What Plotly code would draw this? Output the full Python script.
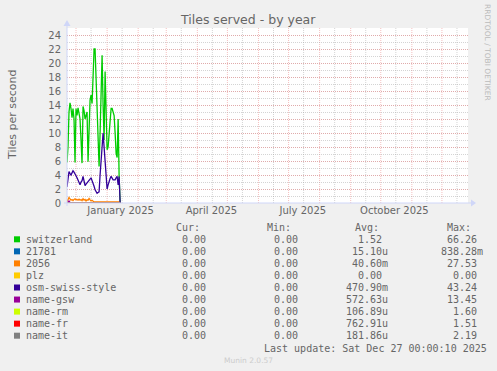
import datetime as dt
import plotly.graph_objects as go

# ---------------- data ----------------
start_date = dt.datetime(2024, 11, 22)
end_date = dt.datetime(2025, 12, 27)

switzerland = [5.8, 8.0, 13.0, 14.3, 13.5, 12.2, 13.5, 12.0, 5.8, 13.5, 12.5, 13.6, 12.8, 12.0,
               9.0, 5.7, 13.8, 13.2, 12.0, 12.6, 13.0, 5.9, 10.0, 14.7, 15.4, 14.2, 18.0, 22.0,
               22.0, 17.0, 12.0, 8.0, 5.2, 10.0, 17.0, 21.1, 14.0, 9.0, 18.8, 12.0, 7.6, 8.0,
               10.0, 12.0, 13.5, 13.5, 12.8, 12.5, 10.0, 7.1, 6.5, 12.0, 3.8, 0.0]
osm_swiss_style = [2.3, 3.5, 4.5, 4.2, 4.0, 4.3, 4.6, 4.4, 4.2, 3.9, 3.6, 3.3, 2.9, 2.6, 3.0,
                   3.2, 3.8, 3.2, 2.5, 2.7, 2.9, 3.0, 3.2, 3.4, 3.6, 3.2, 2.9, 2.4, 1.9, 1.6,
                   1.4, 1.5, 1.6, 4.0, 6.1, 8.5, 10.0, 8.0, 6.1, 3.5, 2.0, 2.6, 3.3, 3.5, 3.8,
                   3.5, 3.3, 3.3, 3.3, 3.6, 3.8, 2.6, 3.8, 0.0]
s2056 = [0.2, 0.5, 0.8, 0.6, 0.4, 0.5, 0.35, 0.5, 0.6, 0.45, 0.5, 0.4, 0.55, 0.4, 0.5, 0.35,
         0.6, 0.4, 0.5, 0.3, 0.45, 0.4, 0.65, 0.45, 0.3, 0.4, 0.2, 0.15, 0.15, 0.15, 0.15,
         0.15, 0.15, 0.15, 0.15, 0.15, 0.15, 0.15, 0.15, 0.15, 0.15, 0.15, 0.15, 0.15, 0.15,
         0.15, 0.15, 0.15, 0.15, 0.15, 0.15, 0.15, 0.15, 0.0]
name_gsw = [0.0, 0.2, 0.3, 0.1] + [0.0] * 50
zeros = [0.0] * 54

series_names = ["switzerland", "21781", "2056", "plz", "osm-swiss-style",
                "name-gsw", "name-rm", "name-fr", "name-it"]
series_colors = ["#00cc00", "#0066b3", "#ff8000", "#ffcc00", "#330099",
                 "#990099", "#ccff00", "#ff0000", "#808080"]
series_values = [switzerland, zeros, s2056, zeros, osm_swiss_style,
                 name_gsw, zeros, zeros, zeros]

cur_vals = ["0.00"] * 9
min_vals = ["0.00"] * 9
avg_vals = ["1.52", "15.10u", "40.60m", "0.00", "470.90m", "572.63u", "106.89u", "762.91u", "181.86u"]
max_vals = ["66.26", "838.28m", "27.53", "0.00", "43.24", "13.45", "1.60", "1.51", "2.19"]

y_ticks = list(range(0, 25, 2))
x_tick_dates = ["2025-01-14 12:00", "2025-04-15 00:00", "2025-07-15 06:00", "2025-10-14 14:00"]
x_tick_labels = ["January 2025", "April 2025", "July 2025", "October 2025"]

# ---------------- layout geometry ----------------
W, H = 497, 371
PL, PR, PT, PB = 67, 468, 28, 203


def X(px):
    return (px - PL) / (PR - PL)


def Y(py):
    return (PB - py) / (PB - PT)


dates = [start_date + dt.timedelta(days=i) for i in range(len(switzerland))]

fig = go.Figure()
for name, color, vals in zip(series_names, series_colors, series_values):
    fig.add_trace(go.Scatter(x=dates[:len(vals)], y=vals, mode="lines", name=name,
                             line=dict(color=color, width=1.3), showlegend=False,
                             hoverinfo="skip"))

FONT = "DejaVu Sans"
MONO = "DejaVu Sans Mono"
TXT = "#666666"
AXIS = "#CFD6F8"
MGRID = "rgba(235,130,130,0.5)"
GRID = "rgba(160,160,160,0.45)"

shapes = []
# vertical grid lines: month starts (red) and mid-month (grey)
d = dt.datetime(2024, 12, 1)
while d < end_date:
    shapes.append(dict(type="line", xref="x", yref="paper", x0=d, x1=d, y0=0, y1=1,
                       line=dict(color=MGRID, width=1, dash="1px,1px"), layer="below"))
    mid = d + dt.timedelta(days=15)
    if mid < end_date:
        shapes.append(dict(type="line", xref="x", yref="paper", x0=mid, x1=mid, y0=0, y1=1,
                           line=dict(color=GRID, width=1, dash="1px,1px"), layer="below"))
    d = (d.replace(day=28) + dt.timedelta(days=5)).replace(day=1)

# axes lines and arrows
shapes.append(dict(type="line", xref="paper", yref="paper", x0=X(64), x1=X(472), y0=0, y1=0,
                   line=dict(color=AXIS, width=1)))
shapes.append(dict(type="line", xref="paper", yref="paper", x0=0, x1=0, y0=Y(206), y1=Y(22),
                   line=dict(color=AXIS, width=1)))
shapes.append(dict(type="path", xref="paper", yref="paper",
                   path=f"M {X(471)} {Y(199.5)} L {X(476)} {Y(203)} L {X(471)} {Y(206.5)} Z",
                   fillcolor=AXIS, line=dict(width=0)))
shapes.append(dict(type="path", xref="paper", yref="paper",
                   path=f"M {X(63.5)} {Y(26)} L {X(67)} {Y(20)} L {X(70.5)} {Y(26)} Z",
                   fillcolor=AXIS, line=dict(width=0)))

annotations = []


def txt(x, y, text, size=10, font=FONT, color=TXT, xanchor="left", angle=0):
    annotations.append(dict(x=X(x), y=Y(y), xref="paper", yref="paper", text=text,
                            showarrow=False, xanchor=xanchor, yanchor="middle",
                            font=dict(family=font, size=size, color=color),
                            borderpad=0, borderwidth=0, textangle=angle))


txt(248, 19, "Tiles served - by year", size=12.5, xanchor="center")
txt(12, 115, "Tiles per second", size=11, xanchor="center", angle=-90)
txt(488, 52, "RRDTOOL / TOBI OETIKER", size=7.5, color="#bbbbbb", xanchor="center", angle=90)

# legend
row0 = 239.3
dy = 12.05
txt(175.5, 227.3, "Cur:", font=MONO)
txt(266.5, 227.3, "Min:", font=MONO)
txt(354.5, 227.3, "Avg:", font=MONO)
txt(446.5, 227.3, "Max:", font=MONO)


def fmt(v):
    return v if v[-1] in "mu" else v + "\u00a0"


for k, name in enumerate(series_names):
    yy = row0 + k * dy
    shapes.append(dict(type="rect", xref="paper", yref="paper", x0=X(14), x1=X(20),
                       y0=Y(yy + 3), y1=Y(yy - 3), fillcolor=series_colors[k], line=dict(width=0)))
    txt(26, yy, name, font=MONO)
    txt(212, yy, fmt(cur_vals[k]), font=MONO, xanchor="right")
    txt(303.5, yy, fmt(min_vals[k]), font=MONO, xanchor="right")
    txt(388, yy, fmt(avg_vals[k]), font=MONO, xanchor="right")
    txt(483, yy, fmt(max_vals[k]), font=MONO, xanchor="right")

txt(487, 348, "Last update: Sat Dec 27 00:00:10 2025", font=MONO, xanchor="right")
txt(248, 360.5, "Munin 2.0.57", size=7.5, color="#cccccc", xanchor="center")

fig.update_layout(
    width=W, height=H,
    margin=dict(l=PL, r=W - PR, t=PT, b=H - PB, pad=0),
    paper_bgcolor="#f0f0f0", plot_bgcolor="#ffffff",
    shapes=shapes, annotations=annotations,
    showlegend=False,
    xaxis=dict(type="date", range=[start_date, end_date], showgrid=False, zeroline=False,
               tickmode="array", tickvals=x_tick_dates, ticktext=x_tick_labels,
               ticks="", showline=False,
               tickfont=dict(family=FONT, size=10, color=TXT)),
    yaxis=dict(range=[0, 25], tickmode="array", tickvals=y_ticks, ticks="",
               showgrid=True, gridcolor=MGRID, griddash="1px,1px", gridwidth=1,
               zeroline=False, showline=False, ticklabelstandoff=5,
               minor=dict(dtick=1, tick0=0, showgrid=True, gridcolor=GRID,
                          griddash="1px,1px", gridwidth=1),
               tickfont=dict(family=FONT, size=10, color=TXT)),
)

fig.write_html("out.html")
